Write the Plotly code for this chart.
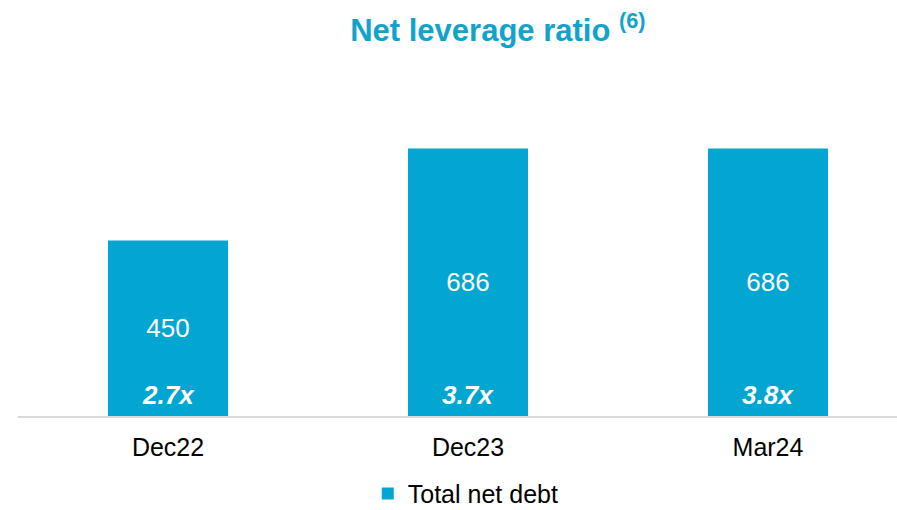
import plotly.graph_objects as go

# Net debt by reporting date, with the net leverage multiple for each
periods = ["Dec22", "Dec23", "Mar24"]
net_debt = [450, 686, 686]
leverage = ["2.7x", "3.7x", "3.8x"]

BLUE = "#03A6D1"
FONT = "Liberation Sans, Arial, sans-serif"

fig = go.Figure()
fig.add_trace(go.Bar(
    x=periods,
    y=net_debt,
    name="Total net debt",
    marker=dict(color=BLUE, line=dict(width=0)),
    width=0.4,
    text=[str(v) for v in net_debt],
    textposition="inside",
    insidetextanchor="middle",
    textfont=dict(family=FONT, size=26, color="white"),
    hoverinfo="skip",
))

# leverage multiples sitting at the foot of each bar
for p, lev in zip(periods, leverage):
    fig.add_annotation(
        x=p, y=0, xref="x", yref="y",
        text=f"<b><i>{lev}</i></b>",
        showarrow=False,
        yanchor="bottom", yshift=4,
        font=dict(family=FONT, size=26, color="white"),
    )

fig.update_layout(
    width=897, height=510,
    margin=dict(l=18, r=0, t=60, b=94, autoexpand=False),
    paper_bgcolor="white",
    plot_bgcolor="white",
    font=dict(family=FONT, color="black"),
    title=dict(
        text="<b>Net leverage ratio <sup>(6)</sup></b>",
        font=dict(family=FONT, size=31, color="#12A3CC"),
        x=0.555, xanchor="center", xref="container",
        y=0.94, yanchor="middle", yref="container",
    ),
    showlegend=True,
    legend=dict(
        orientation="h",
        x=0.41, xanchor="left", xref="container",
        y=0.032, yanchor="middle", yref="container",
        font=dict(family=FONT, size=25, color="black"),
        bgcolor="rgba(0,0,0,0)",
        borderwidth=0,
    ),
    bargap=0.6,
)

fig.update_xaxes(
    range=[-0.5, 2.43],
    showline=True, linecolor="#D9D9D9", linewidth=2,
    showgrid=False, ticks="",
    tickfont=dict(family=FONT, size=25, color="black"),
    ticklabelstandoff=8,
    fixedrange=True,
)
fig.update_yaxes(
    range=[0, 913],
    visible=False,
    showgrid=False, zeroline=False,
    fixedrange=True,
)

fig.write_html("out.html")
